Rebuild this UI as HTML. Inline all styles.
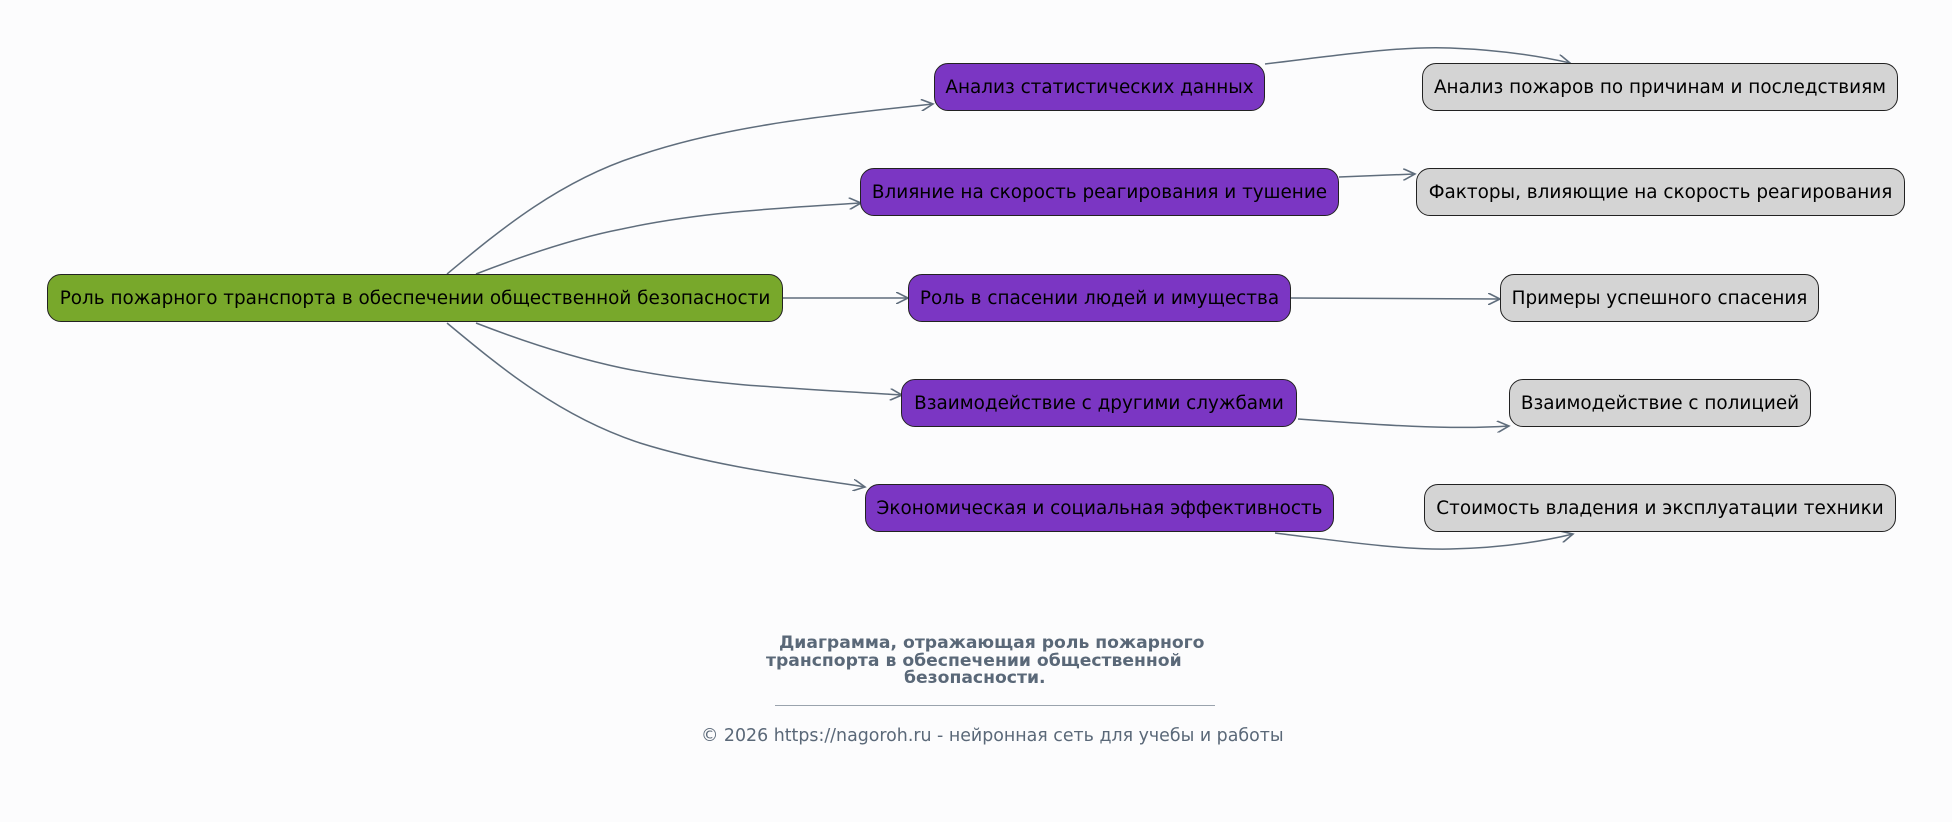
<!DOCTYPE html>
<html><head><meta charset="utf-8"><style>
html,body{margin:0;padding:0;background:#fcfcfd;}
body{width:1952px;height:822px;position:relative;overflow:hidden;font-family:"DejaVu Sans","Liberation Sans",sans-serif;}
.n{position:absolute;box-sizing:border-box;border:1.3px solid #222;border-radius:14px;display:flex;align-items:center;justify-content:center;font-size:18.4px;color:#000;white-space:nowrap;height:48px;}
.g{background:#78a82b}.p{background:#7b36c3}.q{background:#d4d4d4}
.t{position:absolute;white-space:nowrap;color:#5a6878;}
</style></head><body>
<svg width="1952" height="822" style="position:absolute;left:0;top:0">
<defs><marker id="a" markerWidth="14" markerHeight="12" refX="12" refY="6" orient="auto" markerUnits="userSpaceOnUse">
<polyline points="0,0 12,6 0,12" fill="none" stroke="#5f6d7c" stroke-width="1.6"/></marker></defs>
<g fill="none" stroke="#5f6d7c" stroke-width="1.5" marker-end="url(#a)">
<path d="M447,274 C500,230 560,180 640,155 C720,128 810,117 933,104"/>
<path d="M476,274 C525,255 575,238 622,229 C700,212 780,208 861,203"/>
<path d="M783,298 L908,298"/>
<path d="M476,323 C525,342 575,358 622,368 C700,384 780,388 902,395"/>
<path d="M447,323 C500,367 560,417 640,443 C720,468 810,478 865,487"/>
<path d="M1265,64 C1340,55 1400,46 1450,48 C1500,50 1540,56 1570,63"/>
<path d="M1339,177 L1415,174"/>
<path d="M1291,298 L1500,299"/>
<path d="M1298,419 C1380,425 1450,430 1509,426"/>
<path d="M1275,533 C1340,541 1400,550 1450,549 C1500,548 1540,542 1573,534"/>
</g></svg>
<div class="n g" style="left:47px;top:274px;width:736px">Роль пожарного транспорта в обеспечении общественной безопасности</div>
<div class="n p" style="left:934px;top:63px;width:331px">Анализ статистических данных</div>
<div class="n p" style="left:860px;top:168px;width:479px">Влияние на скорость реагирования и тушение</div>
<div class="n p" style="left:908px;top:274px;width:383px">Роль в спасении людей и имущества</div>
<div class="n p" style="left:901px;top:379px;width:396px">Взаимодействие с другими службами</div>
<div class="n p" style="left:865px;top:484px;width:469px">Экономическая и социальная эффективность</div>
<div class="n q" style="left:1422px;top:63px;width:476px">Анализ пожаров по причинам и последствиям</div>
<div class="n q" style="left:1416px;top:168px;width:489px">Факторы, влияющие на скорость реагирования</div>
<div class="n q" style="left:1500px;top:274px;width:319px">Примеры успешного спасения</div>
<div class="n q" style="left:1509px;top:379px;width:302px">Взаимодействие с полицией</div>
<div class="n q" style="left:1424px;top:484px;width:472px">Стоимость владения и эксплуатации техники</div>
<div class="t" style="left:779px;top:633px;font-size:17.2px;font-weight:bold">Диаграмма, отражающая роль пожарного</div>
<div class="t" style="left:766px;top:651px;font-size:17.2px;font-weight:bold">транспорта в обеспечении общественной</div>
<div class="t" style="left:904px;top:668px;font-size:17.2px;font-weight:bold">безопасности.</div>
<div style="position:absolute;left:775px;top:705px;width:440px;height:1px;background:#9aa3ad"></div>
<div class="t" style="left:701px;top:726px;font-size:17.4px">© 2026 https://nagoroh.ru - нейронная сеть для учебы и работы</div>
</body></html>
